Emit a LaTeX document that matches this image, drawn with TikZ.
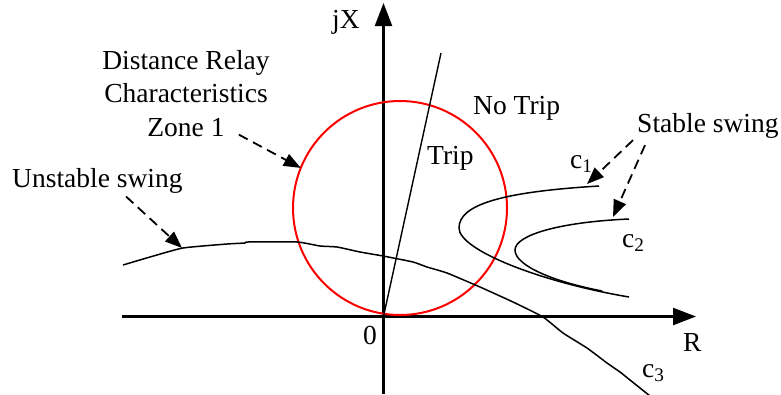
\documentclass[tikz,border=0pt]{standalone}
\usepackage{fontspec}
\setmainfont{Liberation Serif}
\usetikzlibrary{arrows.meta}

\tikzset{
    axis/.style={line width=2.3pt, -{Triangle[length=23pt,width=17pt]}},
    swing/.style={line width=1.5pt},
    pointer/.style={line width=1.8pt, dash pattern=on 10pt off 6pt,
        -{Triangle[length=17pt,width=13pt]}},
    lbl/.style={inner sep=0pt, anchor=base west},
    lblc/.style={inner sep=0pt, anchor=base}
}

\begin{document}
\begin{tikzpicture}[x=1pt, y=-1pt, font=\fontsize{27.5}{33}\selectfont]
    \useasboundingbox (0,0) rectangle (781,394);
    % Axes
    \coordinate (o) at (383.5,316.5);
    \draw[axis] (122,316.5) -- (696,316.5);
    \draw[axis] (383.5,394) -- (383.5,3);
    \node[lbl] (jx) at (332,28) {jX};
    \node[lbl] (zero) at (363,344) {0};
    \node[lbl] (r) at (683,351) {R};
    % Zone 1 circle and trip line
    \node[circle, draw=red, line width=2pt, minimum size=214pt, inner sep=0pt, outer sep=0pt] (zonecircle) at (400,208) {};
    \draw[line width=1.4pt] (o) -- (441,53);
    \node[lbl] (trip) at (427,164) {Trip};
    \node[lbl] (notrip) at (473,114) {No Trip};
    % Stable swings
    \draw[swing] (599,186) .. controls (500,192) and (459,205) .. (459,228)
        .. controls (459,250) and (540,282) .. (629,297);
    \draw[swing] (629,219) .. controls (560,222) and (515,235) .. (515,250)
        .. controls (515,266) and (555,282) .. (602,291);
    \node[lbl] (c1) at (570,168) {c\textsubscript{1}};
    \node[lbl] (c2) at (622,247) {c\textsubscript{2}};
    % Unstable swing
    \draw[swing] plot[smooth, tension=0.3] coordinates {(123,265) (150,257) (183,248) (227,244) (245,243) (248,242) (297,242) (320,246) (337,247) (360,252) (383,256) (413,262) (427,267) (447,273) (480,287) (513,302) (543,317) (563,333) (587,348) (607,363) (620,372) (630,380) (650,396)};
    \node[lbl] (c3) at (642,377) {c\textsubscript{3}};
    % Labels and pointers
    \node[lblc] (relay1) at (186,69) {Distance Relay};
    \node[lblc] (relay2) at (186,102) {Characteristics};
    \node[lblc] (zone1) at (186,136) {Zone 1};
    \node[lbl] (unstable) at (12,187) {Unstable swing};
    \node[lbl] (stable) at (637,132) {Stable swing};
    \coordinate (unstabletip) at (182,248);
    \coordinate (c1tip) at (587,184);
    \coordinate (c2tip) at (613,217);
    \draw[pointer, shorten <=16pt] (zone1.east) -- (zonecircle.158);
    \draw[pointer, shorten <=5pt] ([xshift=25pt]unstable.south) -- (unstabletip);
    \draw[pointer] ([xshift=-4pt,yshift=-2pt]stable.south west) -- (c1tip);
    \draw[pointer] ([xshift=8pt,yshift=-7pt]stable.south west) -- (c2tip);
\end{tikzpicture}
\end{document}
